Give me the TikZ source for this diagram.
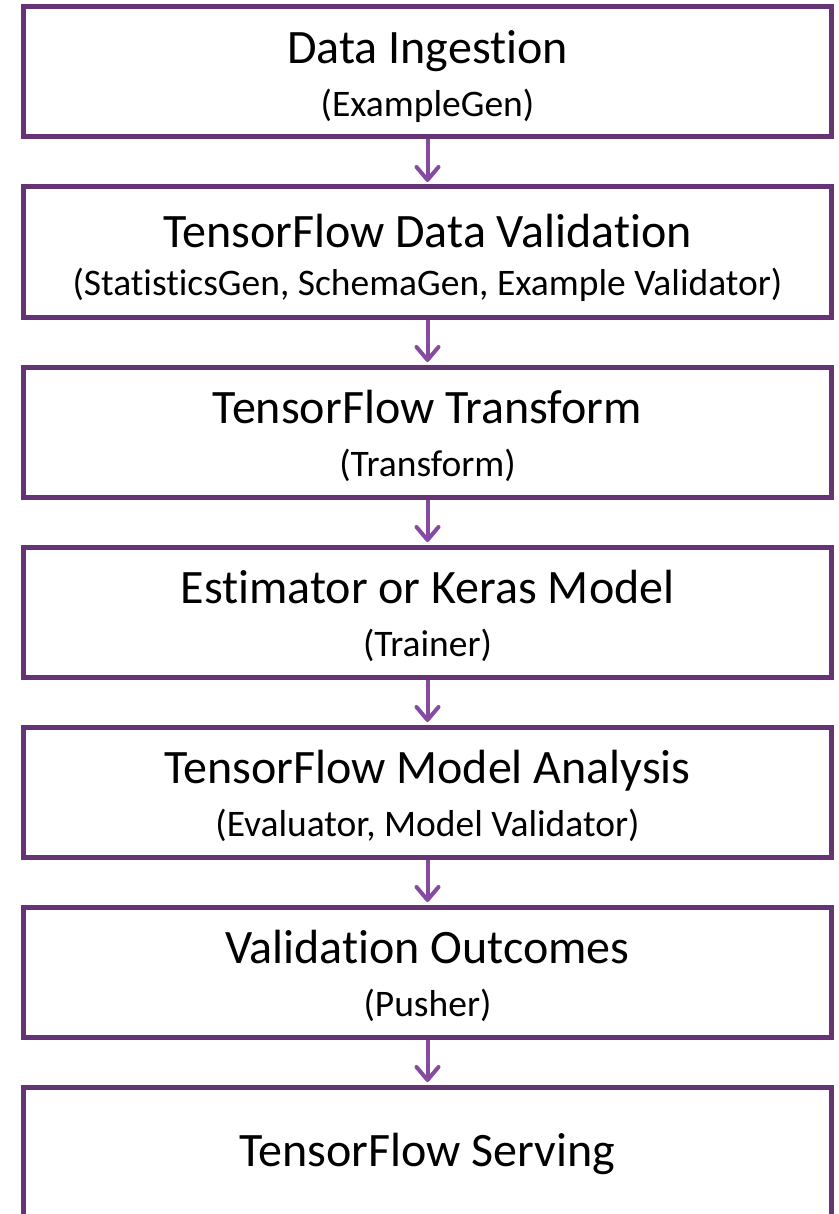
\documentclass[tikz,border=0pt]{standalone}
\usepackage{fontspec}
\setmainfont{Carlito}[Ligatures=NoCommon]
\usetikzlibrary{arrows.meta}
\definecolor{boxpurple}{RGB}{102,51,117}
\definecolor{arrowpurple}{RGB}{134,74,162}
\tikzset{
  stage/.style={draw=boxpurple, line width=5pt, minimum width=808pt, minimum height=130pt, inner sep=0pt},
  heading/.style={anchor=base, inner sep=0pt, font=\fontsize{48}{50}\selectfont},
  component/.style={anchor=base, inner sep=0pt, font=\fontsize{37.5}{40}\selectfont},
  flow/.style={draw=arrowpurple, line width=4pt,
    -{Straight Barb[length=13pt, width=22pt, line cap=round, line join=round]}},
}
\begin{document}
\begin{tikzpicture}[x=1pt, y=-1pt]
\useasboundingbox (0,0) rectangle (838,1214);
% pipeline stages, top to bottom (boxes are 130 high, 180 apart)
\node[stage] (ingest)    at (427.5,72)   {};
\node[stage] (validate)  at (427.5,252)  {};
\node[stage] (transform) at (427.5,432)  {};
\node[stage] (trainer)   at (427.5,612)  {};
\node[stage] (analysis)  at (427.5,792)  {};
\node[stage] (outcomes)  at (427.5,972)  {};
\node[stage] (serving)   at (427.5,1152) {};
% texts: title baseline 59 below the top edge, component baseline 112 below it
\node[heading]   (ingest-t)    at ([yshift=-59pt]ingest.north)     {Data Ingestion};
\node[component] (ingest-c)    at ([yshift=-112pt]ingest.north)    {(ExampleGen)};
\node[heading]   (validate-t)  at ([yshift=-63pt]validate.north)   {TensorFlow Data Validation};
\node[component] (validate-c)  at ([yshift=-111pt]validate.north)  {(StatisticsGen, SchemaGen, Example Validator)};
\node[heading]   (transform-t) at ([yshift=-59pt]transform.north)  {TensorFlow Transform};
\node[component] (transform-c) at ([yshift=-112pt]transform.north) {(Transform)};
\node[heading]   (trainer-t)   at ([yshift=-59pt]trainer.north)    {Estimator or Keras Model};
\node[component] (trainer-c)   at ([yshift=-112pt]trainer.north)   {(Trainer)};
\node[heading]   (analysis-t)  at ([yshift=-59pt]analysis.north)   {TensorFlow Model Analysis};
\node[component] (analysis-c)  at ([yshift=-112pt]analysis.north)  {(Evaluator, Model Validator)};
\node[heading]   (outcomes-t)  at ([yshift=-59pt]outcomes.north)   {Validation Outcomes};
\node[component] (outcomes-c)  at ([yshift=-112pt]outcomes.north)  {(Pusher)};
\node[heading]   (serving-t)   at ([yshift=-82pt]serving.north)    {TensorFlow Serving};
% connectors
\foreach \a/\b in {ingest/validate, validate/transform, transform/trainer,
                   trainer/analysis, analysis/outcomes, outcomes/serving}{
  \draw[flow] (\a.south) -- ([yshift=2.5pt]\b.north);
}
\end{tikzpicture}
\end{document}
